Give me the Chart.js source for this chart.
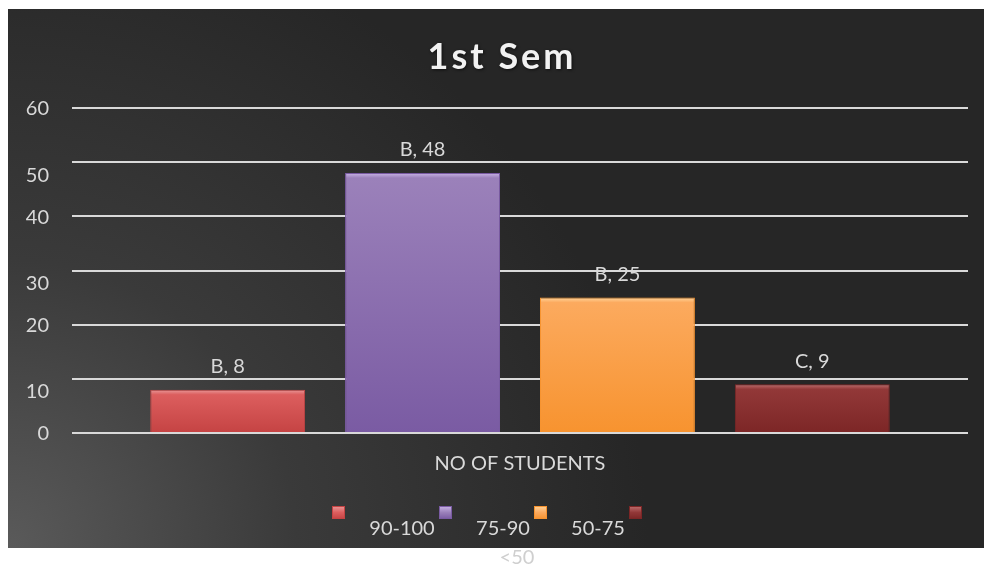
<!DOCTYPE html>
<html>
<head>
<meta charset="utf-8">
<script src="https://cdn.jsdelivr.net/npm/chart.js@4.4.1/dist/chart.umd.min.js"></script>
<style>
  html, body { margin: 0; padding: 0; background: #ffffff; }
  canvas { display: block; }
</style>
</head>
<body>
<canvas id="semChart" width="984" height="566"></canvas>
<script>
// 데이터
const categories = ['NO OF STUDENTS'];
const seriesNames = ['90-100', '75-90', '50-75', '<50'];
const seriesValues = [8, 48, 25, 9];
const seriesGrades = ['B', 'B', 'B', 'C'];
const yTicks = [0, 10, 20, 30, 40, 50, 60];
const chartTitle = '1st Sem';

// 막대 색 (위쪽 밝은색, 아래쪽 진한색)
const topColors = ['#dc5e5e', '#9b81ba', '#fcaa5e', '#923838'];
const bottomColors = ['#c54343', '#7a5ba3', '#f7932f', '#7c2626'];
const edgeColors = ['#e99a9a', '#c9b4e6', '#ffd49a', '#c07070'];

const textColor = '#d9d9d9';
const fontFamily = 'Lato, "Open Sans", sans-serif';

function barGradient(i) {
    return function(context) {
        const chart = context.chart;
        const yScale = chart.scales.y;
        if (!chart.chartArea || !yScale) return bottomColors[i];
        const top = yScale.getPixelForValue(seriesValues[i]);
        const bottom = yScale.getPixelForValue(0);
        const h = Math.max(bottom - top, 1);
        const g = chart.ctx.createLinearGradient(0, top, 0, bottom);
        g.addColorStop(0, edgeColors[i]);
        g.addColorStop(Math.min(5 / h, 0.5), topColors[i]);
        g.addColorStop(1, bottomColors[i]);
        return g;
    };
}

const datasets = seriesNames.map((name, i) => ({
    label: name,
    data: [seriesValues[i]],
    backgroundColor: barGradient(i),
    borderColor: bottomColors[i],
    borderWidth: 1
}));

// 배경 + 제목 + 라벨 그리는 플러그인
const decorPlugin = {
    id: 'decor',
    beforeDraw(chart) {
        const ctx = chart.ctx;
        ctx.save();
        ctx.fillStyle = '#ffffff';
        ctx.fillRect(0, 0, chart.width, chart.height);
        const g = ctx.createRadialGradient(8, 548, 0, 8, 548, 640);
        g.addColorStop(0, '#5a5a5a');
        g.addColorStop(0.45, '#3a3a3a');
        g.addColorStop(1, '#262626');
        ctx.fillStyle = g;
        ctx.fillRect(8, 9, 976, 539);
        ctx.restore();
    },
    afterDraw(chart) {
        const ctx = chart.ctx;
        const yScale = chart.scales.y;
        const xScale = chart.scales.x;
        ctx.save();

        // 제목
        ctx.font = 'bold 36px ' + fontFamily;
        ctx.letterSpacing = '3px';
        ctx.fillStyle = '#f2f2f2';
        ctx.textAlign = 'center';
        ctx.textBaseline = 'middle';
        ctx.shadowColor = 'rgba(0,0,0,0.6)';
        ctx.shadowOffsetX = 1;
        ctx.shadowOffsetY = 1;
        ctx.shadowBlur = 3;
        ctx.fillText(chartTitle, 502, 57);
        ctx.shadowColor = 'transparent';
        ctx.letterSpacing = '0px';

        // y축 눈금 (원본처럼 10,30,50 은 조금 아래로 밀림)
        ctx.font = '20px ' + fontFamily;
        ctx.fillStyle = textColor;
        ctx.textAlign = 'right';
        yTicks.forEach(v => {
            const y = yScale.getPixelForValue(v) + (v % 20 === 10 ? 13 : 1);
            ctx.fillText(String(v), 49, y);
        });

        // x축 라벨
        ctx.textAlign = 'center';
        ctx.font = '20px ' + fontFamily;
        ctx.fillText(categories[0], xScale.getPixelForValue(0), 464);

        // 데이터 라벨
        chart.data.datasets.forEach((ds, i) => {
            const bar = chart.getDatasetMeta(i).data[0];
            ctx.fillText(seriesGrades[i] + ', ' + seriesValues[i], bar.x, bar.y - 23);
        });

        // 범례 (원본의 어긋난 배치 그대로)
        const markerX = [332, 439, 534, 629];
        const labelPos = [[402, 529], [503, 529], [598, 529], [517, 558]];
        seriesNames.forEach((name, i) => {
            const g = ctx.createLinearGradient(0, 506, 0, 519);
            g.addColorStop(0, edgeColors[i]);
            g.addColorStop(0.5, topColors[i]);
            g.addColorStop(1, bottomColors[i]);
            ctx.fillStyle = g;
            ctx.fillRect(markerX[i], 506, 13, 13);
            ctx.strokeStyle = bottomColors[i];
            ctx.lineWidth = 1;
            ctx.strokeRect(markerX[i] + 0.5, 506.5, 12, 12);
            ctx.fillStyle = i === 3 ? '#cfcfcf' : textColor;
            ctx.fillText(name, labelPos[i][0], labelPos[i][1]);
        });

        ctx.restore();
    }
};

new Chart(document.getElementById('semChart'), {
    type: 'bar',
    data: {
        labels: categories,
        datasets: datasets
    },
    options: {
        responsive: false,
        animation: false,
        devicePixelRatio: 1,
        categoryPercentage: 0.87,
        barPercentage: 0.795,
        layout: {
            padding: { left: 72, right: 16, top: 108, bottom: 125 }
        },
        plugins: {
            legend: { display: false },
            title: { display: false },
            tooltip: { enabled: false }
        },
        scales: {
            x: {
                grid: { display: false },
                border: { display: false },
                ticks: { display: false }
            },
            y: {
                min: 0,
                max: 60,
                ticks: { display: false, stepSize: 10 },
                grid: { color: '#d9d9d9', lineWidth: 2, drawTicks: false },
                border: { display: false }
            }
        }
    },
    plugins: [decorPlugin]
});
</script>
</body>
</html>
